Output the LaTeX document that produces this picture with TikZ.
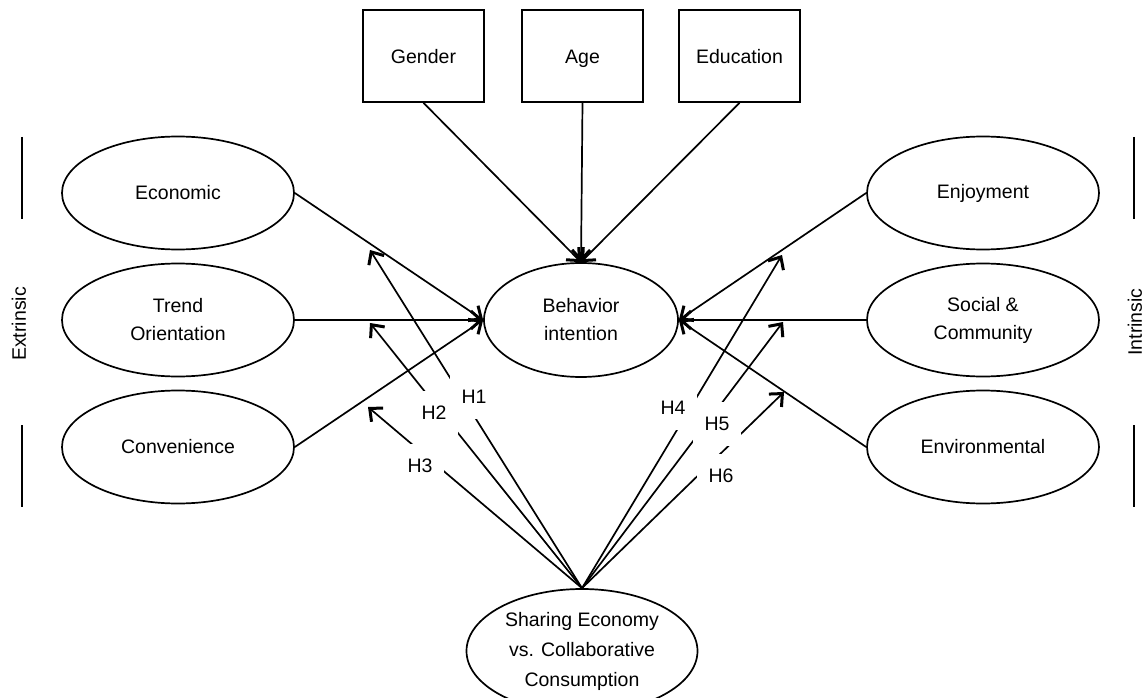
\documentclass[tikz,border=0pt]{standalone}
\usepackage{fontspec}
\setmainfont{Liberation Sans}
\usetikzlibrary{arrows.meta, shapes.geometric}

\tikzset{
  construct/.style={draw, ellipse, line width=1.7pt, minimum width=232pt,
    minimum height=113pt, inner sep=0pt, align=center},
  ctrlbox/.style={draw, rectangle, line width=1.7pt, minimum width=121pt,
    minimum height=92pt, text height=18pt, text depth=2pt},
  link/.style={line width=1.7pt,
    -{Straight Barb[length=10pt, width=18pt, line width=3pt]}},
  hyp/.style={fill=white, minimum width=48pt, minimum height=44pt, inner sep=0pt},
  sidebar/.style={line width=1.7pt}
}

\begin{document}
\begin{tikzpicture}[x=1pt, y=-1pt, font=\fontsize{19.5}{28}\selectfont]
    \useasboundingbox (0,0) rectangle (1146,698);
    % Control variables
    \node[ctrlbox] (gender) at (423.5,56) {Gender};
    \node[ctrlbox] (age) at (582.5,56) {Age};
    \node[ctrlbox] (edu) at (739.5,56) {Education};
    % Central construct and moderator
    \node[construct, minimum width=194pt, minimum height=114pt] (bi) at (581,320) {Behavior\\intention};
    \node[construct, minimum width=231pt, minimum height=124pt,
        font=\fontsize{19.5}{30}\selectfont] (sec) at (582,651)
        {Sharing Economy\\vs. Collaborative\\Consumption};
    % Extrinsic motives
    \node[construct] (econ) at (178,193) {Economic};
    \node[construct] (trend) at (178,320) {Trend\\Orientation};
    \node[construct] (conv) at (178,447) {Convenience};
    % Intrinsic motives
    \node[construct] (enjoy) at (983,193) {Enjoyment};
    \node[construct] (social) at (983,320) {Social \&\\Community};
    \node[construct] (env) at (983,447) {Environmental};
    % Group labels with side bars
    \node[rotate=90] (extr) at (19,324) {Extrinsic};
    \node[rotate=90] (intr) at (1135,322) {Intrinsic};
    \draw[sidebar] (22,137) -- (22,219) (22,425) -- (22,507);
    \draw[sidebar] (1134,137) -- (1134,219) (1134,425) -- (1134,507);
    % Direct effects
    \foreach \n in {gender, age, edu} {
        \draw[link] (\n.south) -- (bi.north);
    }
    \foreach \n in {econ, trend, conv} {
        \draw[link] (\n.east) -- (bi.west);
    }
    \foreach \n in {enjoy, social, env} {
        \draw[link] (\n.west) -- (bi.east);
    }
    % Moderating effects
    \coordinate (m1) at (370,250);
    \coordinate (m2) at (370,323);
    \coordinate (m3) at (368,407);
    \coordinate (m4) at (782,255);
    \coordinate (m5) at (783,322);
    \coordinate (m6) at (784,392);
    \foreach \m in {m1, m2, m3, m4, m5, m6} {
        \draw[link] (sec.north) -- (\m);
    }
    % Hypothesis labels
    \node[hyp] (h1) at (474,397) {H1};
    \node[hyp] (h2) at (434,413) {H2};
    \node[hyp] (h3) at (420,466) {H3};
    \node[hyp] (h4) at (673,408) {H4};
    \node[hyp] (h5) at (717,424) {H5};
    \node[hyp] (h6) at (721,476) {H6};
\end{tikzpicture}
\end{document}
